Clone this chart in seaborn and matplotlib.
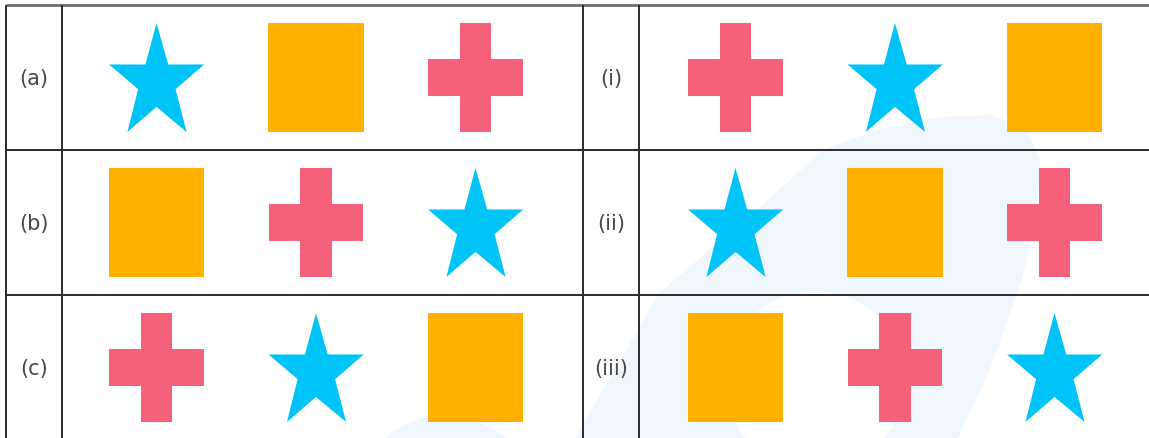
import numpy as np
import pandas as pd
import matplotlib
matplotlib.use("Agg")
import matplotlib.pyplot as plt
from matplotlib.path import Path
from matplotlib.patches import Polygon, Circle
import seaborn as sns

# ---- data -------------------------------------------------------------
left_labels = ["(a)", "(b)", "(c)"]
right_labels = ["(i)", "(ii)", "(iii)"]
left_rows = [["star", "square", "cross"],
             ["square", "cross", "star"],
             ["cross", "star", "square"]]
right_rows = [["cross", "star", "square"],
              ["star", "square", "cross"],
              ["square", "cross", "star"]]
shape_colors = {"star": "#00C4F8", "square": "#FFB000", "cross": "#F5607B"}

# ---- layout (pixel space) ---------------------------------------------
W, H = 1149, 439
v_lines = [6, 62, 583, 639]
h_lines = [151, 296]
top_y = 6
row_centers = [78.5, 223.5, 368.5]
label_x = {"left": 34, "right": 611}
first_center = {"left": 156.5, "right": 735.5}
spacing = 159.5
shape_height_px = 109

# ---- custom marker paths ----------------------------------------------
star_pts = np.array([(470, 72), (505, 196), (613, 196), (527, 270), (560, 398),
                     (470, 323), (383, 398), (415, 270), (328, 196), (437, 196)], float)
star_pts[:, 0] = (star_pts[:, 0] - 470) / 326
star_pts[:, 1] = -(star_pts[:, 1] - 235) / 326
star_path = Path(np.vstack([star_pts, star_pts[:1]]),
                 [Path.MOVETO] + [Path.LINETO] * 9 + [Path.CLOSEPOLY])

hw, hh = 0.436, 0.5
square_path = Path([(-hw, -hh), (hw, -hh), (hw, hh), (-hw, hh), (-hw, -hh)],
                   [Path.MOVETO, Path.LINETO, Path.LINETO, Path.LINETO, Path.CLOSEPOLY])

ow, oh, bw, bh = 0.434, 0.5, 0.146, 0.168
cross_pts = [(-bw, oh), (bw, oh), (bw, bh), (ow, bh), (ow, -bh), (bw, -bh),
             (bw, -oh), (-bw, -oh), (-bw, -bh), (-ow, -bh), (-ow, bh), (-bw, bh)]
cross_path = Path(cross_pts + [cross_pts[0]],
                  [Path.MOVETO] + [Path.LINETO] * 11 + [Path.CLOSEPOLY])
marker_map = {"star": star_path, "square": square_path, "cross": cross_path}

records = []
for side, rows in (("left", left_rows), ("right", right_rows)):
    for r, seq in enumerate(rows):
        for k, shp in enumerate(seq):
            records.append({"x": first_center[side] + k * spacing,
                            "y": row_centers[r], "shape": shp})
df = pd.DataFrame(records)

# ---- figure -----------------------------------------------------------
sns.set_theme(style="white")
plt.rcParams["font.family"] = ["DejaVu Sans"]
fig = plt.figure(figsize=(W / 100, H / 100), dpi=100)
ax = fig.add_axes([0, 0, 1, 1])
ax.set_facecolor("white")

# faint watermark
wm = "#EFF7FD"
band = Polygon([(575, 439), (660, 293), (750, 217), (823, 151), (880, 130),
                (940, 118), (990, 116), (1025, 128), (1040, 160), (1037, 217),
                (1022, 280), (990, 370), (958, 439)],
               closed=True, facecolor=wm, edgecolor="none", zorder=0)
ax.add_patch(band)
ax.add_patch(Circle((815, 382), 90, facecolor="white", edgecolor="none", zorder=0.5))
ax.add_patch(Circle((445, 512), 95, facecolor=wm, edgecolor="none", zorder=0))

sns.scatterplot(data=df, x="x", y="y", hue="shape", style="shape",
                markers=marker_map, palette=shape_colors,
                s=(shape_height_px * 0.72) ** 2, linewidth=0, edgecolor="none",
                legend=False, ax=ax, zorder=3)

# table lines
ax.hlines(top_y, 6, W, color="#6f6f6f", lw=2.0, zorder=4)
ax.vlines(v_lines, top_y, H, color="#2b2b2b", lw=1.4, zorder=4)
ax.hlines(h_lines, 6, W, color="#2b2b2b", lw=1.4, zorder=4)

for side, labels in (("left", left_labels), ("right", right_labels)):
    for r, lab in enumerate(labels):
        ax.text(label_x[side], row_centers[r] + 1, lab, ha="center", va="center",
                fontsize=15, color="#484848", zorder=5)

ax.set_xlim(0, W)
ax.set_ylim(H, 0)
ax.axis("off")
fig.savefig("out.png", dpi=100, facecolor="white")
